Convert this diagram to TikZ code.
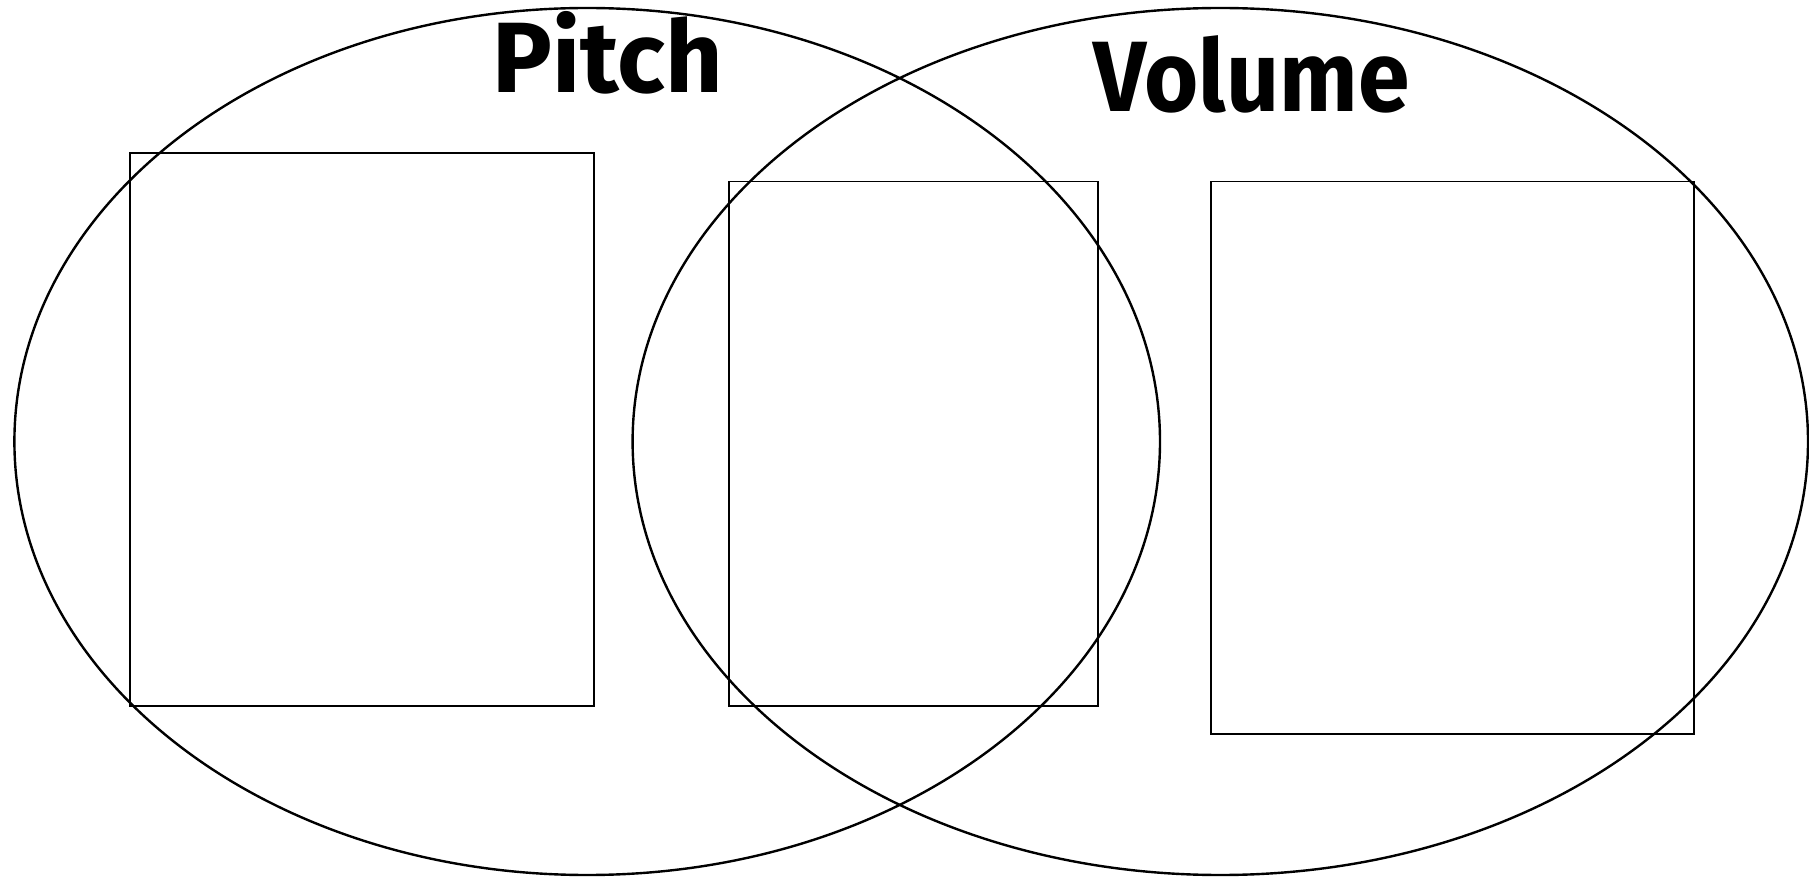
\documentclass[tikz,border=0pt]{standalone}
\usepackage{fontspec}
\newfontfamily\headfont{Fira Sans}
\usetikzlibrary{shapes.geometric}
\begin{document}
\begin{tikzpicture}[x=1pt, y=1pt,
  setring/.style={ellipse, draw, line width=2.4pt, inner sep=0pt},
  answerbox/.style={rectangle, draw, line width=1.6pt, inner sep=0pt},
  heading/.style={anchor=base, inner sep=0pt, font=\headfont\bfseries\fontsize{100}{100}\selectfont}]
  \useasboundingbox (0,0) rectangle (1809,879);
  % the two sets
  \node[setring, minimum width=1145.6pt, minimum height=867pt] (pitchset) at (587.2,437.5) {};
  \node[setring, minimum width=1175.4pt, minimum height=867pt] (volumeset) at (1220.3,437.5) {};
  % headings
  \node[heading] (pitchlabel) at (608,786) {Pitch};
  \node[heading, xscale=0.93] (volumelabel) at (1251.5,767) {Volume};
  % boxes to write in
  \node[answerbox, minimum width=464.3pt, minimum height=552.7pt] (pitchbox) at (361.9,449.4) {};
  \node[answerbox, minimum width=369pt, minimum height=524.3pt] (bothbox) at (913.5,435.2) {};
  \node[answerbox, minimum width=483pt, minimum height=552.3pt] (volumebox) at (1452.5,421.2) {};
\end{tikzpicture}
\end{document}
